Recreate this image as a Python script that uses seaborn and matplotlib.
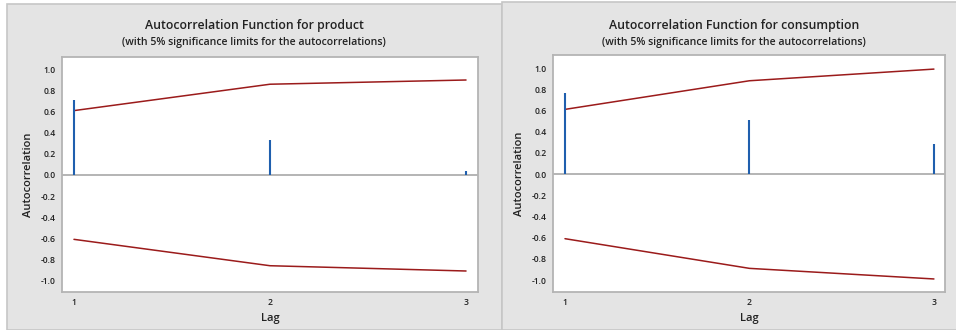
import matplotlib
matplotlib.use("Agg")
import matplotlib.pyplot as plt
import seaborn as sns
import pandas as pd
from matplotlib.patches import Rectangle

# Lags and autocorrelations with 5% significance limits
lags = [1, 2, 3]

product_acf = [0.71, 0.33, 0.04]
product_upper = [0.61, 0.86, 0.90]
product_lower = [-0.61, -0.86, -0.91]

consumption_acf = [0.76, 0.51, 0.28]
consumption_upper = [0.61, 0.88, 0.99]
consumption_lower = [-0.61, -0.89, -0.99]

y_ticks = [-1.0, -0.8, -0.6, -0.4, -0.2, 0.0, 0.2, 0.4, 0.6, 0.8, 1.0]
y_ticklabels = ["-1.0", "-0.8", "-0.6", "-0.4", "-0.2", "0.0", "0.2", "0.4", "0.6", "0.8", "1.0"]

sns.set_theme(style="white")
plt.rcParams["font.family"] = ["Open Sans", "DejaVu Sans"]

W, H = 956, 330
fig = plt.figure(figsize=(W / 100, H / 100), dpi=100)
fig.patch.set_facecolor("white")

PANEL = "#e4e4e4"
PANEL_EDGE = "#c6c6c6"
FRAME = "#b4b4b4"
BAR = "#1f5fae"
LIMIT = "#9b1b1b"
TEXT = "#222222"


def px(x0, y0, x1, y1):
    return [x0 / W, 1 - y1 / H, (x1 - x0) / W, (y1 - y0) / H]


def panel(x0, y0, x1, y1):
    fig.patches.append(Rectangle((x0 / W, 0), (x1 - x0) / W, 1 - y0 / H,
                                 transform=fig.transFigure, facecolor=PANEL,
                                 edgecolor=PANEL_EDGE, linewidth=1.2, zorder=-5))


def acf_panel(rect, acf, upper, lower, title, xlim, ylim, cx):
    ax = fig.add_axes(px(*rect))
    ax.set_facecolor("white")
    df = pd.DataFrame({"Lag": lags, "ACF": acf, "Upper": upper, "Lower": lower})
    ax.axhline(0, color="#a8a8a8", linewidth=1.2, zorder=1)
    ax.vlines(df["Lag"], 0, df["ACF"], color=BAR, linewidth=1.5, zorder=3)
    sns.lineplot(data=df, x="Lag", y="Upper", ax=ax, color=LIMIT, linewidth=1.1, zorder=2)
    sns.lineplot(data=df, x="Lag", y="Lower", ax=ax, color=LIMIT, linewidth=1.1, zorder=2)
    ax.set_xlim(*xlim)
    ax.set_ylim(*ylim)
    ax.set_xticks(lags)
    ax.set_xticklabels([str(v) for v in lags])
    ax.set_yticks(y_ticks)
    ax.set_yticklabels(y_ticklabels)
    ax.tick_params(axis="both", direction="out", length=3, width=0.8, color="#999999",
                   labelsize=6.2, labelcolor=TEXT, pad=1.5)
    for lab in ax.get_xticklabels() + ax.get_yticklabels():
        lab.set_fontweight("semibold")
    for s in ax.spines.values():
        s.set_color(FRAME)
        s.set_linewidth(1.3)
    ax.set_xlabel("Lag", fontsize=8, fontweight="semibold", color=TEXT, labelpad=4)
    ax.set_ylabel("Autocorrelation", fontsize=8, fontweight="semibold", color=TEXT, labelpad=5)
    fig.text(cx / W, 1 - 25 / H, title, ha="center", va="center", fontsize=8.8,
             fontweight="semibold", color=TEXT)
    fig.text(cx / W, 1 - 42 / H, "(with 5% significance limits for the autocorrelations)",
             ha="center", va="center", fontsize=7.6, fontweight="semibold", color=TEXT)
    return ax


panel(7, 4, 502, 331)
panel(502, 2, 957, 331)

acf_panel((62, 57, 478, 292), product_acf, product_upper, product_lower,
          "Autocorrelation Function for product", (0.939, 3.061), (-1.109, 1.118), 254)
acf_panel((553, 55, 945, 292), consumption_acf, consumption_upper, consumption_lower,
          "Autocorrelation Function for consumption", (0.935, 3.06), (-1.113, 1.123), 734)

fig.savefig("out.png", dpi=100, facecolor=fig.get_facecolor())
